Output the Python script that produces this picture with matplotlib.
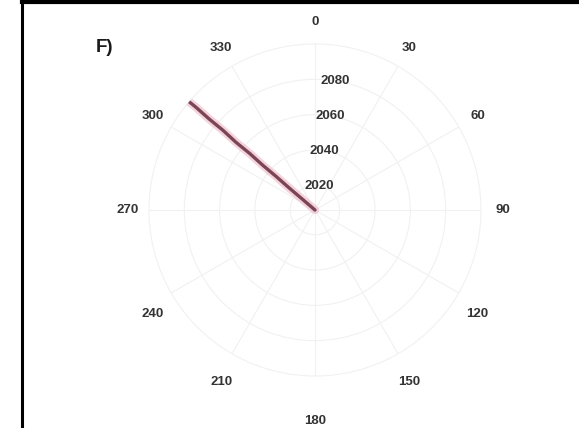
import matplotlib.pyplot as plt
import numpy as np
from matplotlib.lines import Line2D

plt.rcParams['font.family'] = ['Liberation Sans', 'DejaVu Sans']

# direction (degrees) against year
years = [2006, 2015, 2025, 2035, 2045, 2055, 2065, 2075, 2085, 2095, 2100]
direction = [310.6, 310.7, 310.5, 310.8, 310.6, 310.9, 310.6, 310.9, 310.7, 310.8, 310.7]

r_ticks = [2020, 2040, 2060, 2080]
theta_ticks = list(range(0, 360, 30))

fig = plt.figure(figsize=(5.79, 4.28), dpi=100)
ax = fig.add_axes([0.2573, 0.1215, 0.5734, 0.7757], projection='polar')
ax.set_theta_zero_location('N')
ax.set_theta_direction(-1)
ax.set_ylim(min(years), 2100)

th = np.deg2rad(direction)
ax.plot(th, years, color='#eaa8bd', lw=6, alpha=0.5, solid_capstyle='round', zorder=3)
ax.plot(th, years, color='#7a4655', lw=2.4, solid_capstyle='round', zorder=4)

ax.set_rticks(r_ticks)
ax.set_rlabel_position(9)
ax.tick_params(axis='y', labelsize=9.5, labelcolor='#333333')
for lab in ax.get_yticklabels():
    lab.set_fontweight('bold')
    lab.set_va('center')
    lab.set_ha('center')
ax.set_xticks(np.deg2rad(theta_ticks))
ax.set_xticklabels([])
ax.grid(color='#f1f1f1', lw=0.8)
ax.spines['polar'].set_color('#f1f1f1')
ax.spines['polar'].set_linewidth(0.8)

# angle labels around the circle; lower half sits a little further out
for a in theta_ticks:
    s, c = np.sin(np.deg2rad(a)), np.cos(np.deg2rad(a))
    f = 1.13
    dy = 0.0
    if c < -0.1:
        dy = -0.03
    if a == 180:
        dy = -0.07
    ax.text(0.5 + 0.5 * f * s, 0.5 + 0.5 * f * c + dy, str(a), transform=ax.transAxes,
            ha='center', va='center', fontsize=9.5, fontweight='bold', color='#333333')

fig.text(96 / 579, 1 - 48 / 428, 'F)', fontsize=13.5, fontweight='bold', ha='left', va='center', color='#1a1a1a')

# panel frame (top and left edges)
fig.add_artist(Line2D([22 / 579, 1], [1 - 1.5 / 428, 1 - 1.5 / 428], color='black', lw=3, transform=fig.transFigure))
fig.add_artist(Line2D([22 / 579, 22 / 579], [0, 1], color='black', lw=2.2, transform=fig.transFigure))

fig.savefig('out.png', dpi=100)
